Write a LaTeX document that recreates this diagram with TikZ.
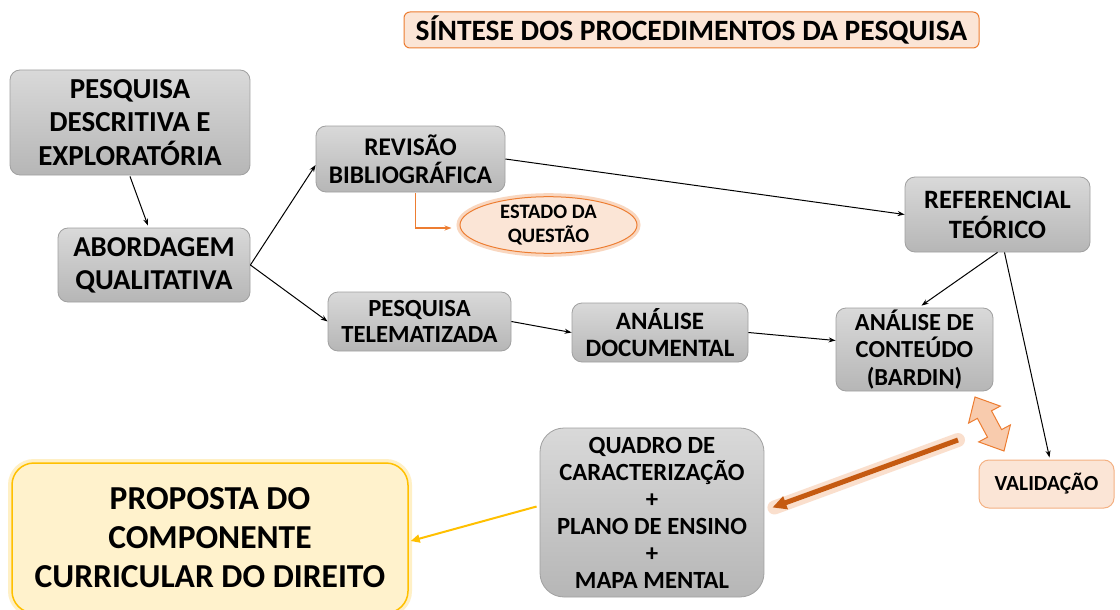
\documentclass[tikz,border=0pt]{standalone}
\usepackage{fontspec}
\setmainfont{Carlito}
\usetikzlibrary{shapes.geometric,arrows.meta,calc}
\definecolor{boxgrayT}{HTML}{D9D9D9}
\definecolor{boxgrayB}{HTML}{B6B6B6}
\definecolor{boxline}{HTML}{A0A0A0}
\definecolor{peach}{HTML}{FBE5D6}
\definecolor{peachline}{HTML}{ED7D31}
\definecolor{peachglow}{HTML}{F4B183}
\definecolor{darkor}{HTML}{C55A11}
\definecolor{lightyel}{HTML}{FFF2CC}
\definecolor{gold}{HTML}{FFC000}
\definecolor{arrfill}{HTML}{F8CBAD}
\tikzset{
  gbox/.style={draw=boxline, line width=0.8pt, rounded corners=10pt, top color=boxgrayT, bottom color=boxgrayB, align=center, inner sep=0pt},
  pbox/.style={draw=peachline, line width=1pt, rounded corners=6pt, fill=peach, align=center, inner sep=0pt},
  conn/.style={-{Stealth[length=7pt,width=5pt]}, line width=1pt, black},
  fs/.style n args={2}{font=\bfseries\fontsize{#1}{#2}\selectfont},
}
\begin{document}
\begin{tikzpicture}[x=1pt,y=-1pt]
\useasboundingbox (0,0) rectangle (1120,610);
\fill[white] (0,0) rectangle (1120,610);

\node[pbox, fs={29.5}{32}, minimum width=575pt, minimum height=36pt] (title) at (691.5,30) {SÍNTESE DOS PROCEDIMENTOS DA PESQUISA};

\node[gbox, fs={29}{33.5}, minimum width=240pt, minimum height=105pt] (desc) at (130,122.5) {PESQUISA\\DESCRITIVA E\\EXPLORATÓRIA};
\node[gbox, fs={28.8}{33}, minimum width=192pt, minimum height=74pt] (abord) at (154,265) {ABORDAGEM\\QUALITATIVA};
\node[gbox, fs={25.4}{28}, minimum width=189pt, minimum height=66pt] (rev) at (410.5,159) {REVISÃO\\BIBLIOGRÁFICA};
\node[ellipse, draw=peachline, line width=1pt, fill=peach, preaction={draw=peachglow, line width=7pt, opacity=0.5}, align=center, inner sep=0pt, fs={20.5}{24}, minimum width=177pt, minimum height=50pt] (est) at (548.5,225) {ESTADO DA\\QUESTÃO};
\node[gbox, fs={26.5}{30}, minimum width=185pt, minimum height=75pt] (ref) at (997.5,214.5) {REFERENCIAL\\TEÓRICO};
\node[gbox, fs={24.6}{26.5}, minimum width=183pt, minimum height=59pt] (tel) at (419.5,321.5) {PESQUISA\\TELEMATIZADA};
\node[gbox, fs={25}{27}, minimum width=176pt, minimum height=59pt] (doc) at (660,332.5) {ANÁLISE\\DOCUMENTAL};
\node[gbox, fs={24.5}{27.5}, minimum width=157pt, minimum height=83pt] (cont) at (914.5,349.5) {ANÁLISE DE\\CONTEÚDO\\(BARDIN)};
\node[gbox, rounded corners=24pt, fs={24.7}{27}, minimum width=224pt, minimum height=169pt] (quadro) at (652,512.5) {QUADRO DE\\CARACTERIZAÇÃO\\+\\PLANO DE ENSINO\\+\\MAPA MENTAL};
\node[pbox, draw=peachglow, rounded corners=10pt, fs={21.5}{24}, minimum width=135pt, minimum height=48pt] (valid) at (1046.5,484) {VALIDAÇÃO};
\node[draw=gold, line width=1.5pt, rounded corners=22pt, fill=lightyel, preaction={draw=gold!50, line width=8pt, opacity=0.45}, align=center, inner sep=0pt, fs={33.5}{39}, minimum width=396pt, minimum height=150pt] (prop) at (210,538) {PROPOSTA DO\\COMPONENTE\\CURRICULAR DO DIREITO};

% connectors
\draw[conn] ($(desc.south)+(0,1)$) -- ($(abord.north)+(-6,-2)$);
\draw[conn] (abord.east) -- ($(rev.west)+(0,6)$);
\draw[conn] (abord.east) -- (tel.west);
\draw[conn] (rev.east) -- (ref.west);
\draw[conn] (tel.east) -- (doc.west);
\draw[conn] (doc.east) -- ($(cont.west)+(0,-9)$);
\draw[conn] (ref.south) -- ($(cont.north)+(7,-2)$);
\draw[conn] ($(ref.south)+(7,0)$) -- ($(valid.north)+(3,-2)$);
\draw[-{Stealth[length=7pt,width=5pt]}, line width=1.3pt, peachline] ($(rev.south)+(5,1)$) |- ($(est.west)+(-8,3)$);
\draw[-{Triangle[length=9pt,width=8pt]}, line width=2pt, gold] ($(quadro.west)+(-3,-6)$) -- ($(prop.east)+(2,3)$);

% thick orange arrow with glow
\coordinate (os) at (958,440);
\draw[line width=14pt, line cap=round, peachglow, opacity=0.4] (os) -- ($(quadro.east)+(10,-5)$);
\draw[-{Triangle[length=14pt,width=13pt]}, line width=5pt, darkor] (os) -- ($(quadro.east)+(8,-5)$);

% double arrow between content analysis and validation
\draw[fill=arrfill, draw=peachline, line width=1pt, line join=miter]
  (975,397) -- (1000.3,406.1) -- (991.5,410.8) -- (1001.6,429.6) -- (1010.4,424.9)
  -- (1004,451) -- (978.7,441.9) -- (987.5,437.2) -- (977.4,418.4) -- (968.6,423.1) -- cycle;
\end{tikzpicture}
\end{document}
